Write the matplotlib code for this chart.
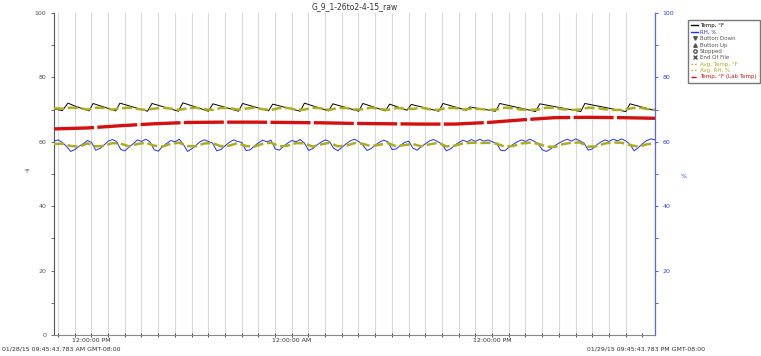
import numpy as np
import matplotlib.pyplot as plt
from matplotlib.lines import Line2D

# hours from start (01/28/15 09:45:43 AM)
temp_t = [0.0, 0.5, 0.84, 1.3, 2.1, 2.34, 3.7, 3.95, 5.6, 5.87, 7.45, 7.72, 9.25, 9.52,
          11.05, 11.3, 12.85, 13.1, 14.75, 15.0, 16.45, 16.7, 18.25, 18.5, 19.85, 20.1,
          21.15, 21.4, 23.05, 23.3, 24.7, 24.9, 26.45, 26.7, 28.85, 29.1, 31.55, 31.8,
          34.25, 34.5, 36.0]
temp_v = [70.2, 69.7, 72.0, 71.0, 69.6, 71.9, 69.6, 72.0, 69.5, 71.9, 69.5, 72.1, 69.5, 71.8,
          69.5, 71.9, 69.6, 71.7, 69.5, 72.0, 69.6, 71.8, 69.5, 71.9, 69.6, 71.7,
          69.8, 71.6, 69.5, 71.9, 69.8, 70.8, 69.5, 71.9, 69.4, 71.8, 69.4, 71.9,
          69.4, 71.8, 69.7]

# RH every quarter hour
rh = [60.2, 60.6, 59.8, 58.6, 57.0, 57.6, 58.6, 59.4, 60.4, 59.8, 57.4, 57.9, 59.0, 60.2,
      60.7, 60.1, 57.6, 57.2, 58.4, 59.4, 60.6, 60.1, 60.8, 60.0, 57.5, 57.1, 58.5, 59.5,
      60.4, 60.0, 60.8, 59.2, 57.0, 57.8, 58.9, 60.0, 60.6, 60.1, 59.6, 57.2, 57.6, 58.8,
      59.8, 60.6, 60.1, 59.8, 57.3, 57.5, 58.7, 59.7, 60.5, 60.0, 60.5, 57.8, 57.4, 58.6,
      59.6, 60.4, 60.0, 60.7, 59.6, 57.3, 57.9, 59.0, 59.9, 60.6, 60.1, 58.0, 57.2, 58.3,
      59.4, 60.3, 60.8, 60.1, 59.0, 57.3, 57.9, 59.0, 59.9, 60.5, 60.0, 57.6, 57.8, 58.9,
      59.8, 60.2, 58.0, 57.4, 58.5, 59.4, 60.3, 60.7, 60.0, 59.3, 57.2, 57.8, 58.9, 59.8,
      60.5, 60.0, 60.7, 60.1, 60.8, 60.2, 60.6, 60.0, 59.6, 57.4, 57.2, 58.3, 59.2, 60.0,
      60.6, 60.1, 60.8, 60.2, 59.4, 57.5, 57.0, 57.8, 58.8, 59.6, 60.3, 60.8, 60.2, 60.9,
      60.3, 59.6, 57.4, 57.8, 59.0, 59.9, 60.6, 60.1, 60.8, 60.3, 60.9, 60.3, 59.2, 57.2,
      58.2, 59.4, 60.4, 60.9, 60.6]

# averages every half hour
avg_temp = [70.4, 70.3, 70.6, 70.5, 70.0, 70.6, 70.5, 70.0, 70.4, 70.6, 70.2, 69.9, 70.3,
            70.6, 70.3, 69.9, 70.4, 70.6, 70.1, 69.9, 70.5, 70.5, 70.0, 70.3, 70.6, 70.1,
            69.9, 70.5, 70.5, 70.0, 70.0, 70.6, 70.4, 69.9, 70.5, 70.5, 70.0, 70.1, 70.6,
            70.2, 69.9, 70.5, 70.3, 70.2, 70.6, 70.1, 69.9, 70.5, 70.5, 70.0, 70.3, 70.2,
            69.9, 70.0, 70.6, 70.4, 70.0, 69.9, 70.0, 70.6, 70.5, 70.1, 69.9, 70.0, 70.6,
            70.5, 70.1, 69.9, 69.9, 70.3, 70.7, 70.2, 69.9]
avg_rh = [59.3, 59.4, 58.7, 58.5, 59.5, 58.6, 58.7, 59.6, 59.4, 58.6, 59.3, 59.7, 58.8,
          58.5, 59.4, 59.7, 58.7, 58.6, 59.5, 59.6, 58.6, 58.8, 59.6, 58.7, 58.5, 59.4,
          59.7, 58.6, 58.8, 59.6, 59.5, 58.5, 59.2, 59.7, 58.6, 58.8, 59.6, 59.4, 58.6,
          59.1, 59.6, 58.6, 59.0, 59.3, 58.6, 59.2, 59.7, 58.6, 58.8, 59.5, 59.7, 59.6,
          59.7, 59.4, 58.5, 58.7, 59.5, 59.7, 59.4, 58.5, 58.4, 59.3, 59.7, 59.8, 58.5,
          58.6, 59.5, 59.8, 59.7, 59.0, 58.5, 59.2, 59.6]

# lab temp every 2 hours
lab_t = [0, 2, 4, 6, 8, 10, 12, 14, 16, 18, 20, 22, 24, 26, 28, 30, 32, 34, 36]
lab_v = [64.0, 64.3, 65.0, 65.6, 66.0, 66.1, 66.1, 66.0, 65.9, 65.7, 65.6, 65.5, 65.5,
         66.0, 66.8, 67.5, 67.6, 67.5, 67.3]

olive = "#b0ad1c"

fig = plt.figure(figsize=(7.61, 3.56), dpi=100)
ax = fig.add_axes([54/761, 21/356, 601/761, 322/356])
ax2 = ax.twinx()

for h in range(1, 36):
    ax.axvline(h - 0.762, color="#dadada", lw=0.8, zorder=0)

ax.plot(temp_t, temp_v, color="black", lw=0.7, zorder=5)
ax.plot(np.linspace(0, 36, len(rh)), rh, color="#2233ee", lw=0.7, zorder=4)
ax.plot(np.linspace(0, 36, len(avg_temp)), avg_temp, color=olive, lw=1.8,
        dashes=(4, 1.5), zorder=6)
ax.plot(np.linspace(0, 36, len(avg_rh)), avg_rh, color=olive, lw=1.8,
        dashes=(4, 1.5), zorder=6)
ax.plot(lab_t, lab_v, color="#d41010", lw=2.4, dashes=(12, 1), zorder=3)

ax.set_xlim(0, 36)
ax.set_ylim(0, 100)
ax2.set_ylim(0, 100)
ax.set_yticks([0, 20, 40, 60, 80, 100])
ax.set_yticks([10, 30, 50, 70, 90], minor=True)
ax2.set_yticks([20, 40, 60, 80, 100])
ax2.set_yticks([10, 30, 50, 70, 90], minor=True)
ax.tick_params(axis="y", labelsize=4.5, colors="#555555", length=2, width=0.6)
ax.tick_params(axis="y", which="minor", length=2, width=0.6, colors="#555555")
ax2.tick_params(axis="y", labelsize=4.5, colors="#3344ee", length=2, width=0.6)
ax2.tick_params(axis="y", which="minor", length=2, width=0.6, colors="#3344ee")

hours = [h - 0.762 for h in range(1, 37)]
ax.set_xticks([2.238, 14.238, 26.238])
ax.set_xticklabels(["12:00:00 PM", "12:00:00 AM", "12:00:00 PM"])
ax.set_xticks(hours, minor=True)
ax.tick_params(axis="x", which="both", direction="inout", length=3, width=0.6,
               labelsize=4.5, colors="#333333", pad=1)

for s in ["top"]:
    ax.spines[s].set_visible(False)
    ax2.spines[s].set_visible(False)
ax.spines["left"].set_color("#555555")
ax.spines["bottom"].set_color("#888888")
ax2.spines["right"].set_color("#5566ff")
ax2.spines["left"].set_visible(False)
ax2.spines["bottom"].set_visible(False)

ax.set_ylabel("°F", fontsize=4.5, color="#555555", rotation=0, labelpad=6)
ax2.set_ylabel("%", fontsize=4.5, color="#3344ee", rotation=0, labelpad=7)
ax.set_title("G_9_1-26to2-4-15_raw", fontsize=5.5, color="#333333", pad=3)

fig.text(2/761, 1 - 349/356, "01/28/15 09:45:43.783 AM GMT-08:00", fontsize=4.5,
         color="#333333", va="center")
fig.text(705/761, 1 - 349/356, "01/29/15 09:45:43.783 PM GMT-08:00", fontsize=4.5,
         color="#333333", va="center", ha="right")

handles = [
    Line2D([], [], color="black", lw=1),
    Line2D([], [], color="#2233ee", lw=1),
    Line2D([], [], color="#555555", lw=0, marker="v", markersize=2.5),
    Line2D([], [], color="#555555", lw=0, marker="^", markersize=2.5),
    Line2D([], [], color="#555555", lw=0, marker="o", markersize=2.5, fillstyle="none"),
    Line2D([], [], color="#555555", lw=0, marker="x", markersize=2.5),
    Line2D([], [], color=olive, lw=1, ls=":"),
    Line2D([], [], color=olive, lw=1, ls=":"),
    Line2D([], [], color="#d41010", lw=1, ls="--"),
]
labels = ["Temp, °F", "RH, %", "Button Down", "Button Up", "Stopped", "End Of File",
          "Avg. Temp, °F", "Avg. RH, %", "Temp, °F (Lab Temp)"]
leg = fig.legend(handles, labels, loc="upper left", bbox_to_anchor=(688/761, 1 - 20/356),
                 fontsize=4, frameon=True, fancybox=False, edgecolor="#555555",
                 handlelength=1.2, handletextpad=0.3, labelspacing=0.25,
                 borderpad=0.6, borderaxespad=0)
text_colors = ["black", "#2233ee", "#555555", "#555555", "#555555", "#555555",
               olive, olive, "#d41010"]
for t, c in zip(leg.get_texts(), text_colors):
    t.set_color(c)

fig.savefig("out.png", dpi=100)
